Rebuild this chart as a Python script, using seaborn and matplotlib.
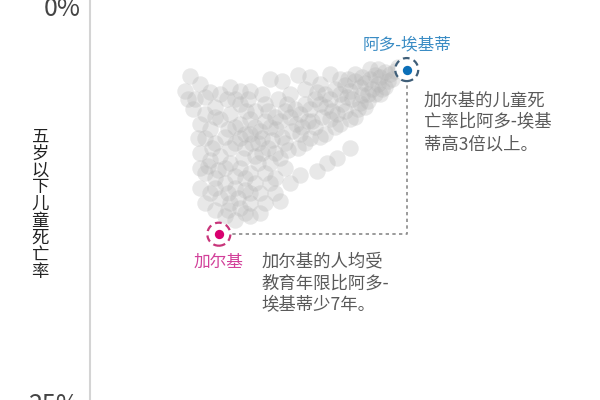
import matplotlib
matplotlib.use('Agg')
import matplotlib.pyplot as plt
import seaborn as sns
import pandas as pd

# 各州：人均受教育年限（年）与五岁以下儿童死亡率（%）
school_years = [
    # 上方的密集带
    11.36, 11.17, 10.98, 10.80, 10.61, 11.09, 10.72, 10.42, 10.24, 10.50,
    10.05, 9.87, 9.68, 10.13, 9.49, 9.31, 9.75, 9.12, 8.94, 9.38,
    8.75, 8.56, 9.01, 8.38, 8.19, 8.64, 8.00, 7.82, 8.27, 7.63,
    7.45, 7.89, 7.26, 7.07, 7.52, 6.89, 6.70, 7.15, 6.52, 6.33,
    6.78, 6.25, 6.63, 7.26, 7.82, 8.38, 8.94, 9.49, 10.05, 10.61,
    10.98, 11.47, 10.42, 9.87, 9.31, 8.56, 8.00, 7.45, 7.00, 6.52,
    6.14, 5.96, 6.40, 5.88, 5.58, 7.74, 8.19, 8.75, 9.31, 9.87,
    10.35, 10.80, 8.94,
    11.24, 10.87, 10.35, 9.98, 9.57, 9.20, 8.79, 8.45, 8.12, 7.67,
    7.33, 6.92, 6.63, 6.14, 5.81, 6.40, 6.03, 7.37, 8.00, 8.56,
    9.12, 9.68, 10.24, 10.72, 10.13, 9.61,
    # 左上零散点
    3.72, 3.54, 4.47, 5.10, 6.70, 7.15, 7.74, 8.19, 4.10, 3.91,
    4.65, 4.28, 5.21, 5.58,
    3.83, 3.65, 4.28, 4.84, 5.40, 5.96,
    # 左侧竖列
    4.10, 4.47, 4.84, 5.21, 5.58, 5.96, 4.28, 4.65, 5.03, 5.40,
    5.77, 6.14, 4.10, 4.47, 4.84, 5.21, 5.58, 5.96, 4.28, 4.65,
    5.03, 5.40, 5.77, 4.47, 4.84, 5.21, 5.58, 4.65, 5.03, 5.40,
    5.96, 6.33, 6.52, 6.70, 6.14, 5.77, 4.28, 4.10, 6.33, 6.89,
    7.07, 6.52, 5.21, 5.58, 4.77, 4.54, 5.14,
    4.65, 5.40, 5.77, 4.39, 5.03, 5.77, 5.40, 6.25, 4.65, 5.14,
    5.96, 5.51, 5.14, 5.96, 4.10, 4.02, 5.70, 6.40, 6.70, 6.89,
    # 右下的尾巴
    7.82, 8.45, 8.82, 9.20, 9.68, 7.45, 7.07, 6.89, 7.26,
]
child_mortality = [
    4.08, 4.27, 4.15, 4.46, 4.33, 4.71, 4.90, 4.59, 4.84, 5.21,
    5.09, 4.71, 5.34, 5.59, 4.96, 5.53, 5.84, 5.21, 5.84, 6.16,
    5.53, 6.16, 6.60, 5.84, 6.47, 6.97, 6.16, 6.78, 7.22, 6.47,
    6.97, 7.60, 6.60, 7.22, 7.85, 6.97, 7.60, 8.23, 7.22, 7.85,
    8.48, 8.67, 8.98, 8.67, 8.04, 7.60, 7.10, 6.60, 6.09, 5.53,
    5.09, 3.83, 3.96, 4.27, 4.59, 4.90, 5.21, 5.53, 5.84, 6.16,
    6.60, 7.10, 5.53, 5.84, 6.16, 8.98, 8.35, 8.04, 7.41, 6.97,
    5.96, 5.53, 4.27,
    4.59, 5.21, 5.53, 6.47, 5.72, 6.78, 6.34, 5.40, 7.22, 7.41,
    6.16, 7.73, 6.60, 7.60, 6.60, 8.35, 8.67, 9.11, 8.67, 8.23,
    7.60, 7.10, 6.34, 3.96, 4.46, 4.59,
    4.40, 5.34, 5.40, 5.84, 4.59, 4.71, 4.33, 4.46, 4.90, 5.84,
    6.34, 6.78, 5.09, 5.34,
    6.47, 5.84, 5.72, 5.53, 5.84, 5.34,
    7.41, 7.73, 7.10, 6.78, 7.41, 8.04, 8.35, 8.67, 8.23, 8.67,
    8.98, 9.48, 9.30, 9.74, 9.48, 9.92, 10.24, 10.55, 10.55, 10.87,
    11.18, 11.49, 11.62, 11.81, 12.12, 12.44, 12.75, 12.88, 13.26, 13.51,
    12.44, 11.81, 10.55, 9.92, 11.18, 13.07, 12.44, 11.49, 13.07, 11.81,
    12.31, 12.44, 8.98, 8.35, 10.36, 8.98, 7.73,
    6.97, 7.60, 8.04, 10.11, 10.24, 10.87, 10.74, 9.92, 11.49, 11.81,
    11.81, 12.12, 12.88, 13.26, 10.24, 8.35, 9.61, 9.30, 11.18, 9.30,
    10.68, 10.43, 9.92, 9.61, 8.98, 11.18, 9.61, 10.87, 10.24,
]

# 两个重点州
highlight_names = ['阿多-埃基蒂', '加尔基']
highlight_years = [11.8, 4.8]
highlight_mortality = [4.0, 14.4]
highlight_colors = ['#0b6fb8', '#d8006f']
ring_colors = ['#3f5e78', '#c8357a']
label_colors = ['#3a8cc4', '#d2409a']

notes = ['加尔基的儿童死\n亡率比阿多-埃基\n蒂高3倍以上。',
         '加尔基的人均受\n教育年限比阿多-\n埃基蒂少7年。']

y_ticks = [0, 25]
y_tick_labels = ['0%', '25%']
y_title = '五岁以下儿童死亡率'

df = pd.DataFrame({'years': school_years, 'mortality': child_mortality})

sns.set_theme(style='white')
plt.rcParams['font.family'] = ['Noto Sans CJK SC', 'DejaVu Sans']

fig = plt.figure(figsize=(6, 4), dpi=100)
ax = fig.add_axes([0.15, -0.05, 0.85, 1.1])

sns.scatterplot(data=df, x='years', y='mortality', ax=ax, s=140,
                color='#b5b5b5', alpha=0.3, linewidth=0, zorder=1)

# 虚线连接两个州
ax.plot([highlight_years[1], highlight_years[0], highlight_years[0]],
        [highlight_mortality[1], highlight_mortality[1], highlight_mortality[0]],
        color='#8a8a8a', lw=1.2, ls=(0, (2, 2)), zorder=2)

for i in range(2):
    ax.scatter(highlight_years[i], highlight_mortality[i], s=275,
               facecolors='white', edgecolors=ring_colors[i],
               linewidths=1.6, linestyles=(0, (3, 2)), zorder=3)
    ax.scatter(highlight_years[i], highlight_mortality[i], s=45,
               color=highlight_colors[i], linewidth=0, zorder=4)

# 州名
ax.annotate(highlight_names[0], (highlight_years[0], highlight_mortality[0]),
            xytext=(0, 25), textcoords='offset pixels', ha='center', va='center',
            fontsize=12, color=label_colors[0])
ax.annotate(highlight_names[1], (highlight_years[1], highlight_mortality[1]),
            xytext=(0, -28), textcoords='offset pixels', ha='center', va='center',
            fontsize=12, color=label_colors[1])

# 说明文字
ax.annotate(notes[0], (highlight_years[0], highlight_mortality[0]),
            xytext=(17, -53), textcoords='offset pixels', ha='left', va='center',
            fontsize=12.5, color='#5a5a5a', linespacing=1.3)
ax.annotate(notes[1], (highlight_years[1], highlight_mortality[1]),
            xytext=(43, -49), textcoords='offset pixels', ha='left', va='center',
            fontsize=12.5, color='#5a5a5a', linespacing=1.3)

ax.set_xlim(0, 19)
ax.set_ylim(26.14, -1.66)
ax.set_yticks(y_ticks)
ax.set_yticklabels(y_tick_labels)
ax.set_xticks([])
ax.set_xlabel('')
ax.set_ylabel('')
ax.tick_params(axis='y', length=0, pad=7, labelsize=18, labelcolor='#444444')

for side in ['top', 'right', 'bottom']:
    ax.spines[side].set_visible(False)
ax.spines['left'].set_color('#d4d4d4')
ax.spines['left'].set_linewidth(1.5)

fig.text(0.067, 0.49, '\n'.join(y_title), ha='center', va='center',
         fontsize=12.5, linespacing=0.92, color='#222222')

fig.savefig('out.png', dpi=100)
